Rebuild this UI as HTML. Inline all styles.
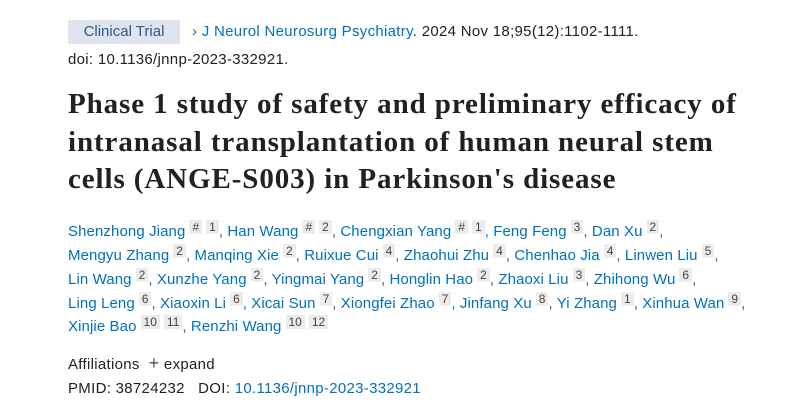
<!DOCTYPE html>
<html><head><meta charset="utf-8"><style>
body{margin:0;width:788px;height:415px;background:#fff;overflow:hidden;font-family:"Liberation Sans",sans-serif;}
.l{position:absolute;left:68px;white-space:nowrap;font-size:15px;letter-spacing:0.3px;color:#212121;}
.au{letter-spacing:0.1px;}
.a{color:#0071bc;}
.tag{position:absolute;left:68px;top:20px;width:112px;height:24px;background:#dfe4ee;color:#2c5a8a;font-size:15px;line-height:24px;text-align:center;}
.t{position:absolute;left:68px;white-space:nowrap;font-family:"Liberation Serif",serif;font-weight:bold;font-size:29px;letter-spacing:0.9px;color:#212121;}
s{text-decoration:none;display:inline-block;background:#ececec;color:#444;font-size:12px;line-height:14px;padding:0 3px;vertical-align:5px;margin-left:4px;letter-spacing:0;}
</style></head><body>
<div class="tag">Clinical Trial</div>
<div class="l a" style="left:192px;top:23px;">›&nbsp;J Neurol Neurosurg Psychiatry<span style="color:#212121">. 2024 Nov 18;95(12):1102-1111.</span></div>
<div class="l" style="top:51px;">doi: 10.1136/jnnp-2023-332921.</div>
<div class="t" style="top:88px;">Phase 1 study of safety and preliminary efficacy of</div>
<div class="t" style="top:126px;">intranasal transplantation of human neural stem</div>
<div class="t" style="top:163px;">cells (ANGE-S003) in Parkinson's disease</div>
<div class="l a au" style="top:220px;">Shenzhong Jiang<s>#</s><s>1</s>, Han Wang<s>#</s><s>2</s>, Chengxian Yang<s>#</s><s>1</s>, Feng Feng<s>3</s>, Dan Xu<s>2</s>,</div>
<div class="l a au" style="top:244px;">Mengyu Zhang<s>2</s>, Manqing Xie<s>2</s>, Ruixue Cui<s>4</s>, Zhaohui Zhu<s>4</s>, Chenhao Jia<s>4</s>, Linwen Liu<s>5</s>,</div>
<div class="l a au" style="top:268px;">Lin Wang<s>2</s>, Xunzhe Yang<s>2</s>, Yingmai Yang<s>2</s>, Honglin Hao<s>2</s>, Zhaoxi Liu<s>3</s>, Zhihong Wu<s>6</s>,</div>
<div class="l a au" style="top:292px;">Ling Leng<s>6</s>, Xiaoxin Li<s>6</s>, Xicai Sun<s>7</s>, Xiongfei Zhao<s>7</s>, Jinfang Xu<s>8</s>, Yi Zhang<s>1</s>, Xinhua Wan<s>9</s>,</div>
<div class="l a au" style="top:315px;">Xinjie Bao<s>10</s><s>11</s>, Renzhi Wang<s>10</s><s>12</s></div>
<div class="l" style="top:353px;">Affiliations &nbsp;<span style="font-size:18px;color:#555">+</span> expand</div>
<div class="l" style="top:380px;">PMID: 38724232 &nbsp;&nbsp;DOI: <span class="a">10.1136/jnnp-2023-332921</span></div>
</body></html>
